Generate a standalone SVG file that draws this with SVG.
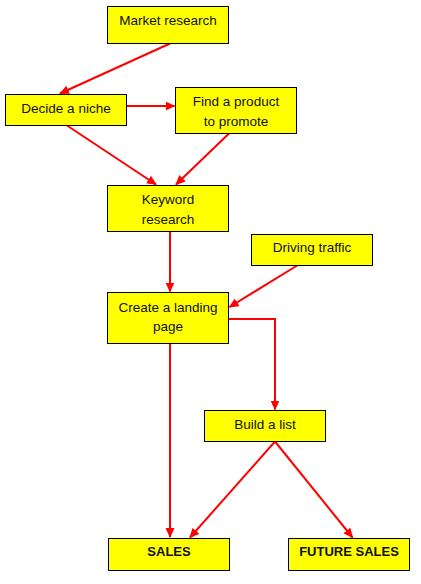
<svg xmlns="http://www.w3.org/2000/svg" width="421" height="584" viewBox="0 0 421 584">
<style>
.box{fill:#FFFF00;stroke:#000;stroke-width:1}
.t{font-family:"Liberation Sans",Arial,sans-serif;font-size:13.5px;fill:#111;text-anchor:middle}
.b{font-weight:bold;font-size:13px}
.c{stroke:#FF0000;stroke-width:2;fill:none}
</style>
<defs>
<marker id="ah" markerUnits="userSpaceOnUse" markerWidth="10" markerHeight="10" refX="9" refY="5" orient="auto" viewBox="0 0 10 10">
<path d="M0,0.5 L10,5 L0,9.5 z" fill="#FF0000"/>
</marker>
</defs>
<rect width="421" height="584" fill="#fff"/>
<g id="connectors">
<line class="c" x1="170" y1="43.5" x2="60" y2="93.5" marker-end="url(#ah)"/>
<line class="c" x1="126.5" y1="106" x2="174.5" y2="106" marker-end="url(#ah)"/>
<line class="c" x1="67" y1="125.5" x2="156" y2="184.5" marker-end="url(#ah)"/>
<line class="c" x1="229" y1="133.5" x2="176" y2="184.5" marker-end="url(#ah)"/>
<line class="c" x1="170" y1="231" x2="170" y2="291.5" marker-end="url(#ah)"/>
<line class="c" x1="298" y1="265" x2="229.5" y2="307" marker-end="url(#ah)"/>
<polyline class="c" points="228.5,319 275,319 275,409.5" marker-end="url(#ah)"/>
<line class="c" x1="170" y1="343.5" x2="170" y2="537" marker-end="url(#ah)"/>
<line class="c" x1="275" y1="441.5" x2="190" y2="537.5" marker-end="url(#ah)"/>
<line class="c" x1="275" y1="441.5" x2="352.5" y2="537.5" marker-end="url(#ah)"/>
</g>
<g id="market-research">
<rect class="box" x="107.5" y="6.5" width="121" height="37"/>
<text class="t" x="168" y="25">Market research</text>
</g>
<g id="decide-niche">
<rect class="box" x="5.5" y="94.5" width="121" height="31"/>
<text class="t" x="66" y="113">Decide a niche</text>
</g>
<g id="find-product">
<rect class="box" x="175.5" y="87.5" width="121" height="46"/>
<text class="t" x="236" y="106">Find a product</text>
<text class="t" x="236" y="125.5">to promote</text>
</g>
<g id="keyword-research">
<rect class="box" x="107.5" y="185.5" width="121" height="46"/>
<text class="t" x="168" y="204">Keyword</text>
<text class="t" x="168" y="223.5">research</text>
</g>
<g id="driving-traffic">
<rect class="box" x="251.5" y="234.5" width="121" height="31"/>
<text class="t" x="312" y="252">Driving traffic</text>
</g>
<g id="landing-page">
<rect class="box" x="107.5" y="292.5" width="121" height="51"/>
<text class="t" x="168" y="311.5">Create a landing</text>
<text class="t" x="168" y="331">page</text>
</g>
<g id="build-list">
<rect class="box" x="204.5" y="410.5" width="121" height="31"/>
<text class="t" x="265" y="428.5">Build a list</text>
</g>
<g id="sales">
<rect class="box" x="108.5" y="538.5" width="121" height="32"/>
<text class="t b" x="169" y="556">SALES</text>
</g>
<g id="future-sales">
<rect class="box" x="288.5" y="538.5" width="121" height="32"/>
<text class="t b" x="349" y="556">FUTURE SALES</text>
</g>
</svg>
